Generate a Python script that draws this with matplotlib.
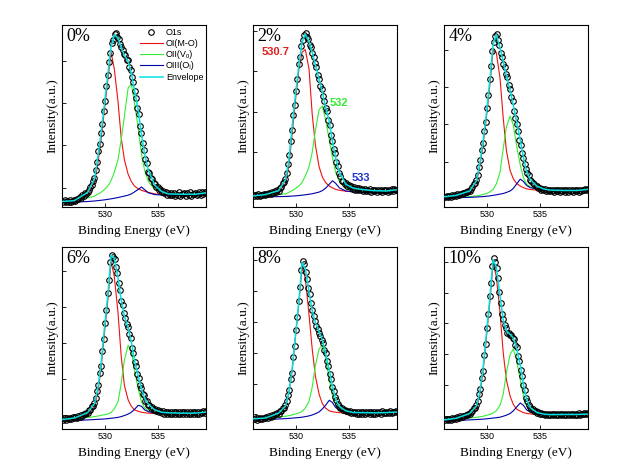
import numpy as np
import matplotlib.pyplot as plt
from matplotlib.lines import Line2D

#%% data
# fitted curves are read on this energy grid (eV)
energy_fit = [526.0, 527.15, 528.4, 529.05, 529.35, 529.65, 529.95, 530.3, 530.6, 530.9,
              531.25, 531.55, 531.85, 532.2, 532.5, 532.8, 533.15, 533.45, 533.75, 534.1,
              534.7, 535.35, 535.95, 537.25, 538.5, 539.5]
# measured O1s points, 107 evenly spaced energies
energy_o1s = np.linspace(526.13, 539.5, 107)

panel_labels = ['0%', '2%', '4%', '6%', '8%', '10%']

# 0 %
o1s_0 = [.028, .036, .026, .034, .030, .038, .029, .035, .040, .033,
         .046, .043, .055, .052, .064, .060, .075, .072, .084, .092,
         .112, .122, .145, .160, .205, .245, .305, .345, .405, .455,
         .525, .58, .665, .725, .795, .845, .90, .92, .95, .955,
         .935, .925, .895, .88, .865, .84, .835, .81, .805, .77,
         .755, .715, .685, .635, .60, .545, .51, .445, .405, .35,
         .315, .265, .24, .195, .185, .16, .155, .13, .125, .108,
         .11, .095, .097, .082, .088, .076, .083, .068, .078, .065,
         .075, .064, .078, .062, .074, .068, .080, .063, .072, .069,
         .077, .062, .075, .066, .081, .063, .072, .070, .079, .064,
         .074, .082, .068, .080, .072, .085, .076]
env_0 = [.030, .035, .080, .155, .27, .40, .55, .73, .88, .945, .93, .875, .835, .80, .735,
         .64, .53, .40, .29, .20, .12, .085, .072, .070, .070, .078]
mo_0 = [.030, .034, .068, .135, .235, .365, .52, .70, .85, .76, .58, .38, .26, .18, .14,
        .115, .10, .092, .086, .080, .072, .068, .066, .065, .065, .066]
vo_0 = [.035, .040, .050, .060, .070, .080, .095, .115, .145, .19, .26, .37, .50, .655, .675,
        .57, .43, .29, .20, .14, .095, .080, .074, .070, .070, .070]
oi_0 = [.025, .027, .030, .033, .035, .037, .039, .042, .045, .048, .052, .056, .060, .065,
        .072, .083, .097, .110, .095, .078, .068, .066, .065, .065, .065, .066]

# 2 %
o1s_2 = [.060, .066, .058, .070, .062, .068, .064, .072, .066, .074,
         .070, .078, .074, .082, .078, .086, .084, .092, .090, .104,
         .112, .130, .135, .155, .185, .235, .285, .365, .425, .505,
         .56, .64, .705, .785, .825, .885, .915, .945, .955, .935,
         .925, .89, .88, .845, .825, .79, .77, .725, .705, .665,
         .65, .61, .585, .545, .525, .48, .45, .395, .365, .32,
         .295, .25, .225, .185, .17, .145, .145, .125, .13, .115,
         .122, .108, .115, .100, .110, .096, .106, .094, .103, .092,
         .100, .090, .098, .088, .096, .086, .097, .085, .094, .089,
         .095, .084, .092, .086, .094, .083, .091, .087, .093, .085,
         .092, .088, .097, .090, .099, .093, .096]
env_2 = [.061, .068, .090, .150, .25, .43, .60, .78, .905, .95, .91, .85, .78, .70, .63,
         .55, .47, .36, .27, .19, .125, .105, .098, .090, .088, .095]
mo_2 = [.061, .066, .082, .13, .22, .39, .57, .755, .85, .865, .76, .51, .34, .22, .165,
        .135, .115, .105, .097, .092, .087, .084, .082, .080, .080, .080]
vo_2 = [.060, .063, .068, .072, .080, .090, .10, .115, .135, .17, .22, .30, .42, .535, .555,
        .48, .37, .27, .19, .14, .10, .09, .086, .085, .088, .092]
oi_2 = [.055, .056, .057, .058, .059, .060, .061, .063, .065, .067, .070, .073, .077, .082,
        .090, .103, .125, .144, .13, .105, .088, .083, .081, .080, .080, .080]

# 4 %
o1s_4 = [.054, .062, .053, .060, .056, .065, .058, .064, .060, .069,
         .066, .074, .069, .078, .075, .084, .080, .088, .087, .101,
         .108, .126, .131, .150, .178, .222, .256, .313, .352, .418,
         .466, .543, .615, .705, .772, .857, .905, .938, .952, .915,
         .888, .845, .826, .788, .77, .732, .712, .67, .648, .605,
         .585, .525, .49, .455, .42, .37, .34, .295, .27, .235,
         .21, .185, .175, .15, .145, .13, .128, .114, .115, .104,
         .107, .096, .100, .091, .097, .088, .094, .087, .093, .086,
         .094, .085, .093, .087, .094, .084, .092, .086, .093, .085,
         .092, .084, .094, .086, .091, .083, .093, .087, .092, .085,
         .094, .088, .096, .091, .098, .093, .097]
env_4 = [.056, .064, .088, .145, .236, .355, .498, .699, .89, .947, .875, .80, .72, .64, .56,
         .47, .37, .27, .195, .15, .115, .099, .093, .091, .091, .097]
mo_4 = [.056, .061, .083, .135, .222, .336, .479, .67, .86, .85, .71, .49, .31, .20, .155,
        .13, .115, .106, .10, .096, .093, .091, .09, .09, .09, .094]
vo_4 = [.050, .052, .057, .061, .064, .069, .073, .083, .097, .126, .19, .32, .44, .50, .45,
        .34, .23, .16, .125, .11, .10, .097, .096, .096, .096, .097]
oi_4 = [.050, .051, .053, .055, .056, .057, .059, .061, .064, .067, .071, .074, .080, .088,
        .102, .126, .153, .14, .118, .106, .099, .095, .094, .093, .093, .093]

# 6 %
o1s_6 = [.050, .058, .049, .060, .053, .062, .055, .064, .058, .067,
         .062, .072, .066, .078, .074, .083, .080, .090, .087, .104,
         .106, .124, .126, .145, .168, .21, .24, .305, .345, .43,
         .495, .585, .655, .75, .82, .92, .955, .945, .935, .89,
         .855, .80, .765, .705, .68, .635, .61, .575, .56, .52,
         .50, .445, .415, .37, .345, .30, .28, .24, .225, .195,
         .185, .155, .152, .13, .133, .118, .121, .107, .109, .098,
         .106, .092, .10, .087, .097, .085, .096, .084, .095, .083,
         .094, .082, .093, .081, .095, .080, .092, .083, .094, .082,
         .093, .080, .092, .083, .095, .081, .091, .084, .094, .082,
         .094, .085, .096, .088, .098, .090, .097]
env_6 = [.052, .06, .09, .14, .22, .35, .536, .74, .955, .94, .83, .71, .62, .555, .48,
         .375, .29, .22, .17, .135, .105, .092, .089, .087, .087, .093]
mo_6 = [.052, .058, .082, .125, .20, .325, .51, .71, .92, .84, .64, .40, .24, .16, .125,
        .105, .097, .092, .089, .087, .085, .084, .084, .084, .085, .086]
vo_6 = [.052, .057, .063, .068, .071, .075, .078, .082, .09, .11, .15, .25, .38, .46, .43,
        .32, .22, .15, .115, .10, .088, .085, .085, .085, .085, .088]
oi_6 = [.043, .046, .05, .052, .053, .054, .055, .057, .059, .061, .064, .068, .074, .082,
        .092, .108, .13, .125, .105, .095, .088, .086, .085, .085, .085, .086]

# 8 %
o1s_8 = [.054, .060, .052, .062, .055, .061, .057, .063, .058, .066,
         .063, .071, .068, .077, .074, .082, .080, .087, .085, .097,
         .101, .115, .117, .132, .152, .188, .215, .275, .31, .395,
         .455, .545, .615, .705, .78, .875, .925, .905, .865, .825,
         .775, .74, .69, .655, .62, .595, .565, .55, .525, .51,
         .49, .47, .435, .42, .375, .345, .30, .275, .232, .208,
         .175, .16, .135, .128, .116, .118, .106, .107, .097, .10,
         .094, .098, .088, .095, .086, .094, .085, .095, .084, .096,
         .085, .094, .083, .096, .086, .093, .084, .095, .085, .094,
         .083, .096, .086, .093, .084, .097, .087, .094, .086, .095,
         .088, .097, .089, .096, .091, .098, .094]
env_8 = [.056, .06, .087, .127, .197, .317, .497, .70, .915, .88, .755, .65, .585, .535, .49,
         .415, .325, .235, .163, .124, .10, .091, .09, .089, .09, .093]
mo_8 = [.056, .06, .08, .12, .19, .31, .49, .69, .89, .83, .63, .44, .29, .19, .14,
        .115, .10, .095, .092, .09, .088, .087, .087, .087, .088, .09]
vo_8 = [.056, .06, .066, .07, .073, .077, .082, .088, .097, .115, .15, .23, .35, .44, .46,
        .39, .275, .185, .133, .11, .095, .09, .089, .089, .09, .092]
oi_8 = [.05, .052, .055, .057, .058, .06, .061, .063, .065, .068, .072, .077, .084, .094,
        .11, .13, .158, .145, .118, .103, .093, .09, .089, .089, .09, .092]

# 10 %
o1s_10 = [.048, .055, .050, .057, .052, .059, .054, .060, .056, .064,
          .061, .069, .066, .074, .072, .079, .077, .084, .083, .095,
          .099, .113, .116, .131, .152, .19, .22, .28, .32, .405,
          .465, .555, .63, .73, .80, .895, .94, .915, .885, .83,
          .755, .695, .63, .605, .57, .556, .53, .53, .515, .515,
          .50, .494, .46, .45, .40, .372, .325, .292, .24, .215,
          .172, .155, .13, .12, .109, .11, .098, .099, .088, .092,
          .084, .088, .081, .085, .078, .084, .077, .083, .076, .082,
          .077, .083, .076, .084, .078, .082, .075, .083, .077, .084,
          .076, .082, .078, .085, .077, .083, .079, .084, .078, .086,
          .079, .085, .080, .086, .082, .087, .083]
env_10 = [.05, .059, .085, .127, .199, .326, .509, .722, .93, .89, .73, .60, .54, .52, .50,
          .445, .35, .245, .16, .117, .091, .082, .079, .08, .08, .082]
mo_10 = [.05, .054, .075, .115, .185, .31, .49, .70, .91, .84, .64, .42, .27, .18, .135,
         .11, .098, .09, .086, .083, .08, .079, .079, .079, .08, .082]
vo_10 = [.05, .054, .06, .064, .067, .07, .075, .08, .088, .10, .13, .19, .31, .41, .44,
         .38, .27, .18, .125, .10, .087, .082, .08, .08, .08, .082]
oi_10 = [.045, .047, .05, .052, .053, .054, .056, .058, .06, .062, .065, .07, .076, .085,
         .10, .12, .143, .13, .105, .092, .084, .081, .08, .08, .08, .082]

o1s_all = [o1s_0, o1s_2, o1s_4, o1s_6, o1s_8, o1s_10]
env_all = [env_0, env_2, env_4, env_6, env_8, env_10]
mo_all = [mo_0, mo_2, mo_4, mo_6, mo_8, mo_10]
vo_all = [vo_0, vo_2, vo_4, vo_6, vo_8, vo_10]
oi_all = [oi_0, oi_2, oi_4, oi_6, oi_8, oi_10]

legend_labels = ['O1s', 'OI(M-O)', 'OII(V\u2092)', 'OIII(O\u1d62)', 'Envelope']

# y tick marks (first tick, spacing) for each panel
ytick_first = [0.106, 0.08, 0.045, 0.078, 0.08, 0.07]
ytick_step = [0.232, 0.222, 0.205, 0.198, 0.17, 0.17]

#%% plot
c_red = '#ee1111'
c_green = '#33ee33'
c_blue = '#0000aa'
c_cyan = '#00e0e0'
serif = 'Liberation Serif'
sans = 'Liberation Sans'

fig = plt.figure(figsize=(6.2, 4.74), dpi=100)
W, H = 620, 474
col_left = [62, 253, 444]
row_top = [25, 247]
row_h = [182, 182]
ax_w = 144

for i in range(6):
    r, c = divmod(i, 3)
    ax = fig.add_axes([col_left[c] / W, 1 - (row_top[r] + row_h[r]) / H,
                       ax_w / W, row_h[r] / H])
    ax.plot(energy_fit, mo_all[i], color=c_red, lw=0.8, zorder=2)
    ax.plot(energy_fit, vo_all[i], color=c_green, lw=0.8, zorder=2)
    ax.plot(energy_fit, oi_all[i], color=c_blue, lw=0.8, zorder=2)
    ax.plot(energy_o1s, o1s_all[i], 'o', ms=4.0, mfc='none', mec='black',
            mew=0.8, zorder=3)
    ax.plot(energy_fit, env_all[i], color=c_cyan, lw=1.1, zorder=4)

    ax.set_xlim(526.0, 539.5)
    ax.set_ylim(0, 1)
    ax.set_xticks([530, 535])
    ax.set_yticks(np.arange(ytick_first[i], 1.0, ytick_step[i]))
    ax.set_yticklabels([])
    ax.tick_params(direction='in', length=3, width=0.6, pad=2.5, labelsize=6.5)
    for lab in ax.get_xticklabels():
        lab.set_family(sans)
    for s in ax.spines.values():
        s.set_linewidth(0.8)
    ax.set_xlabel('Binding Energy (eV)', family=serif, fontsize=9.5, labelpad=4)
    ax.set_ylabel('Intensity(a.u.)', family=serif, fontsize=9.5, labelpad=0)
    ax.text(0.03, 0.985, panel_labels[i], transform=ax.transAxes, family=serif,
            fontsize=13, va='top', ha='left')

    if i == 0:
        handles = [
            Line2D([], [], ls='none', marker='o', ms=4.0, mfc='none', mec='black', mew=0.8),
            Line2D([], [], color=c_red, lw=0.8),
            Line2D([], [], color=c_green, lw=0.8),
            Line2D([], [], color=c_blue, lw=0.8),
            Line2D([], [], color=c_cyan, lw=1.1),
        ]
        ax.legend(handles, legend_labels, loc='upper right', frameon=False,
                  prop={'family': [sans, 'DejaVu Sans'], 'size': 6.5},
                  handlelength=2.6, handletextpad=0.3, labelspacing=0.25,
                  borderaxespad=0.1, borderpad=0.2)
    if i == 1:
        ax.text(0.16, 0.85, '530.7', transform=ax.transAxes, color='#e02020',
                family=sans, fontsize=8, fontweight='bold', ha='center', va='center')
        ax.text(0.60, 0.57, '532', transform=ax.transAxes, color='#33ee33',
                family=sans, fontsize=8, fontweight='bold', ha='center', va='center')
        ax.text(0.75, 0.16, '533', transform=ax.transAxes, color='#2233cc',
                family=sans, fontsize=8, fontweight='bold', ha='center', va='center')

fig.savefig('out.png', dpi=100)
